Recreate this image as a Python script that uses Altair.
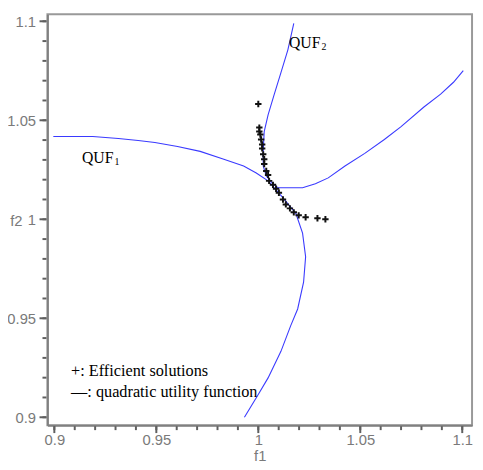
import altair as alt
import pandas as pd

# ---- data ----
quf1_x = [0.8995, 0.9188, 0.9314, 0.9411, 0.9493, 0.9604, 0.9715, 0.9831, 0.9928, 0.9990,
          1.0048, 1.0116, 1.0184, 1.0217, 1.0232, 1.0222, 1.0193, 1.0159, 1.0111, 1.0048,
          0.9999, 0.9932]
quf1_y = [1.0418, 1.0418, 1.0408, 1.0398, 1.0388, 1.0368, 1.0343, 1.0303, 1.0269, 1.0234,
          1.0194, 1.0114, 1.0030, 0.9930, 0.9811, 0.9682, 0.9547, 0.9463, 0.9333, 0.9199,
          0.9114, 0.9000]

quf2_x = [1.0174, 1.0145, 1.0111, 1.0077, 1.0048, 1.0029, 1.0024, 1.0024, 1.0039, 1.0068,
          1.0097, 1.0159, 1.0217, 1.0280, 1.0343, 1.0425, 1.0522, 1.0618, 1.0700, 1.0812,
          1.0894, 1.0957, 1.1005]
quf2_y = [1.0990, 1.0856, 1.0741, 1.0627, 1.0527, 1.0443, 1.0343, 1.0269, 1.0219, 1.0184,
          1.0159, 1.0159, 1.0159, 1.0179, 1.0209, 1.0269, 1.0333, 1.0403, 1.0468, 1.0567,
          1.0632, 1.0692, 1.0751]

pts_x = [1.0000, 1.0005, 1.0005, 1.0010, 1.0014, 1.0019, 1.0019, 1.0024, 1.0029, 1.0029,
         1.0039, 1.0048, 1.0053, 1.0072, 1.0087, 1.0101, 1.0121, 1.0135, 1.0155, 1.0174,
         1.0198, 1.0232, 1.0290, 1.0329]
pts_y = [1.0582, 1.0463, 1.0443, 1.0428, 1.0403, 1.0378, 1.0358, 1.0328, 1.0303, 1.0279,
         1.0244, 1.0224, 1.0194, 1.0174, 1.0154, 1.0134, 1.0100, 1.0075, 1.0055, 1.0035,
         1.0020, 1.0010, 1.0005, 1.0000]

label_x = [0.9135, 1.0150]
label_y = [1.0284, 1.0866]
label_main = ["QUF", "QUF"]
label_sub = ["1", "2"]

note_x = [0.9082, 0.9082]
note_y = [0.9209, 0.9100]
note_text = ["+: Efficient solutions", "\u2014: quadratic utility function"]

x_major = [0.9, 0.95, 1.0, 1.05, 1.1]
y_major = [0.9, 0.95, 1.0, 1.05, 1.1]
minor_ticks = [round(0.9 + 0.01 * i, 2) for i in range(21)]

x_domain = [0.8966, 1.1048]
y_domain = [0.896, 1.1035]

# ---- tables ----
curves = pd.DataFrame({
    "x": quf1_x + quf2_x,
    "y": quf1_y + quf2_y,
    "curve": ["QUF1"] * len(quf1_x) + ["QUF2"] * len(quf2_x),
    "i": list(range(len(quf1_x))) + list(range(len(quf2_x))),
})
points = pd.DataFrame({"x": pts_x, "y": pts_y})
labels = pd.DataFrame({"x": label_x, "y": label_y, "t": label_main, "s": label_sub})
notes = pd.DataFrame({"x": note_x, "y": note_y, "t": note_text})
minor_df = pd.DataFrame({"x": minor_ticks, "y": minor_ticks})
major_df = pd.DataFrame({"x": x_major, "y": y_major})

xs = alt.Scale(domain=x_domain, nice=False, zero=False)
ys = alt.Scale(domain=y_domain, nice=False, zero=False)

GRAY = "#808080"
TICK = "#5f5f5f"
LBL = "#7a7a7a"

common = dict(grid=False, labelFont="Liberation Sans", labelFontSize=15, labelColor=LBL,
              ticks=False, domainColor=GRAY, domainWidth=2,
              titleFont="Liberation Sans", titleFontSize=15, titleColor=LBL,
              titleFontWeight="normal")

ax_x = alt.Axis(orient="bottom", values=x_major, format="~g",
                labelPadding=8, title="f1", titlePadding=1, **common)
ax_y = alt.Axis(orient="left", values=y_major, format="~g",
                labelPadding=12, title="f2", titleAngle=0, titleX=-32, titleY=209,
                titleAlign="center", titleBaseline="middle", **common)

X = alt.X("x:Q", scale=xs, axis=ax_x)
Y = alt.Y("y:Q", scale=ys, axis=ax_y)

line_layer = alt.Chart(curves).mark_line(color="#3a3aff", strokeWidth=1.1).encode(
    x=X, y=Y, detail="curve:N", order="i:Q",
)

# tick marks drawn from the tick value lists
xt_minor = alt.Chart(minor_df).mark_rule(color=TICK, strokeWidth=2).encode(
    x=X, y=alt.value(418), y2=alt.value(422))
xt_major = alt.Chart(major_df).mark_rule(color=TICK, strokeWidth=2).encode(
    x=X, y=alt.value(418), y2=alt.value(425))
yt_minor = alt.Chart(minor_df).mark_rule(color=TICK, strokeWidth=2).encode(
    y=Y, x=alt.value(-1), x2=alt.value(-5))
yt_major = alt.Chart(major_df).mark_rule(color=TICK, strokeWidth=2).encode(
    y=Y, x=alt.value(-1), x2=alt.value(-8))

pt_layer = alt.Chart(points).mark_point(
    shape="M-1,0L1,0M0,-1L0,1", filled=False, color="#111111", size=42, strokeWidth=2,
    opacity=1
).encode(x=X, y=Y)

lab_main = alt.Chart(labels).mark_text(
    font="Liberation Serif", fontSize=16, align="left", baseline="alphabetic", color="black"
).encode(x=X, y=Y, text="t:N")
lab_sub = alt.Chart(labels).mark_text(
    font="Liberation Serif", fontSize=10, align="left", baseline="alphabetic", color="black",
    dx=33, dy=2
).encode(x=X, y=Y, text="s:N")
note_layer = alt.Chart(notes).mark_text(
    font="Liberation Serif", fontSize=16.5, align="left", baseline="alphabetic", color="black"
).encode(x=X, y=Y, text="t:N")

chart = alt.layer(
    line_layer, pt_layer, lab_main, lab_sub, note_layer, xt_minor, xt_major, yt_minor, yt_major
).properties(
    width=431, height=417,
    autosize=alt.AutoSizeParams(type="none"),
    padding={"left": 40, "top": 3, "right": 3, "bottom": 40},
).configure_view(stroke="#999999", strokeWidth=2)

chart.save("out.html", embed_options={"renderer": "svg", "actions": False})
